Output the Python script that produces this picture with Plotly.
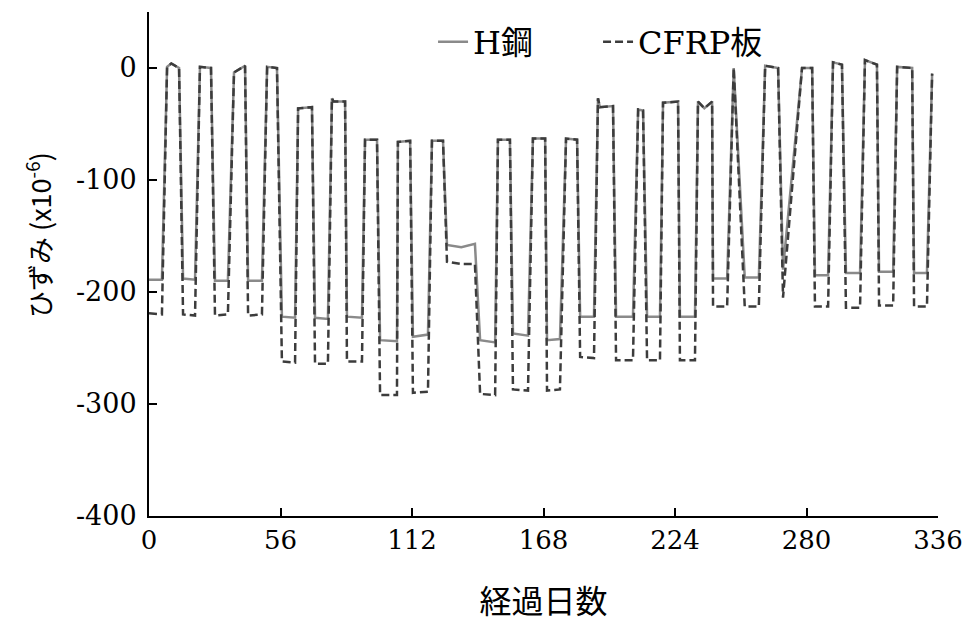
import plotly.graph_objects as go

# Elapsed days (shared by both gauges)
days = [
    0.0, 5.5, 7.7, 9.5, 12.8,
    14.5, 19.6, 21.7, 26.4,
    28.1, 33.6, 36.2, 40.9,
    42.2, 48.1, 50.3, 54.5,
    56.6, 62.2, 63.5, 69.4,
    70.7, 76.2, 77.9, 78.6, 83.5,
    84.3, 90.7, 92.0, 97.1,
    98.4, 105.6, 106.0, 111.2,
    112.4, 118.8, 120.5, 125.2,
    126.9, 133.0, 138.8,
    141.0, 147.4, 148.6, 153.7,
    155.0, 161.4, 163.5, 168.7,
    169.5, 175.0, 177.6, 182.3,
    183.6, 189.5, 191.2, 192.0, 197.6,
    198.9, 206.1, 208.3, 210.4,
    212.1, 217.6, 218.9, 225.3,
    226.1, 232.5, 233.8, 236.5, 239.8,
    240.2, 246.2, 249.0,
    253.7, 259.7, 262.4, 267.9,
    270.0, 278.1, 282.4,
    283.6, 289.2, 291.3, 295.1,
    296.8, 302.8, 304.9, 310.0,
    310.9, 316.9, 318.6, 325.0,
    325.8, 331.3, 333.5,
]

# Strain of the H-section steel (x10^-6)
h_steel = [
    -189, -189, 1, 4, 0,
    -188, -189, 1, 0,
    -190, -190, -4, 2,
    -190, -190, 1, 0,
    -222, -223, -36, -35,
    -223, -224, -27, -30, -30,
    -222, -223, -64, -64,
    -243, -244, -66, -65,
    -240, -238, -65, -65,
    -158, -160, -157,
    -243, -245, -64, -64,
    -237, -239, -63, -63,
    -243, -242, -63, -64,
    -222, -222, -27, -35, -34,
    -222, -222, -37, -38,
    -222, -222, -31, -30,
    -222, -222, -30, -36, -30,
    -188, -188, 0,
    -187, -187, 2, 0,
    -180, 0, 0,
    -185, -185, 5, 3,
    -183, -183, 7, 3,
    -182, -182, 1, 0,
    -183, -183, -5,
]

# Strain of the CFRP plate (x10^-6)
cfrp_plate = [
    -219, -220, 1, 4, 0,
    -220, -221, 1, 0,
    -221, -220, -4, 2,
    -221, -220, 1, 0,
    -262, -263, -36, -35,
    -264, -264, -27, -30, -30,
    -262, -262, -64, -64,
    -292, -292, -66, -65,
    -290, -289, -65, -65,
    -173, -175, -175,
    -291, -292, -64, -64,
    -287, -288, -63, -63,
    -288, -287, -63, -64,
    -258, -259, -27, -35, -34,
    -261, -261, -37, -38,
    -261, -261, -31, -30,
    -261, -261, -30, -36, -30,
    -213, -213, 0,
    -213, -213, 2, 0,
    -205, 0, 0,
    -213, -213, 5, 3,
    -214, -214, 7, 3,
    -212, -212, 1, 0,
    -213, -213, -5,
]

x_ticks = [0, 56, 112, 168, 224, 280, 336]
y_ticks = [0, -100, -200, -300, -400]

serif = "DejaVu Serif, Noto Sans CJK JP"
sans = "Noto Sans CJK JP"

fig = go.Figure()
fig.add_trace(go.Scatter(
    x=days, y=h_steel, name="H鋼", mode="lines",
    line=dict(color="#8a8a8a", width=2.5),
))
fig.add_trace(go.Scatter(
    x=days, y=cfrp_plate, name="CFRP板", mode="lines",
    line=dict(color="#3c3c3c", width=2.5, dash="8px,4px"),
))

fig.update_layout(
    width=975, height=626,
    margin=dict(l=149, r=37, t=12, b=110, autoexpand=False),
    paper_bgcolor="white", plot_bgcolor="white",
    showlegend=True,
    legend=dict(
        orientation="h", x=0.36, y=0.995, xanchor="left", yanchor="top",
        font=dict(family=serif, size=32, color="black"),
        bgcolor="rgba(0,0,0,0)", entrywidth=120, itemwidth=30,
    ),
    annotations=[dict(
        text="ひずみ (x10<sup>-6</sup>)", textangle=-90,
        xref="paper", yref="paper", x=-0.1407, y=0.5575,
        xanchor="center", yanchor="middle", showarrow=False,
        font=dict(family=sans, size=27, color="black"),
    )],
)
fig.update_xaxes(
    range=[0, 336], tickvals=x_ticks, ticktext=[str(v) for v in x_ticks],
    showgrid=False, zeroline=False, showline=True, linecolor="black", linewidth=2,
    ticks="inside", ticklen=8, tickwidth=1.5, tickcolor="black",
    tickfont=dict(family=serif, size=26, color="black"),
    title=dict(text="経過日数", font=dict(family=sans, size=32, color="black"), standoff=36),
)
fig.update_yaxes(
    range=[-400, 50], tickvals=y_ticks, ticktext=[str(v) for v in y_ticks],
    showgrid=False, zeroline=False, showline=True, linecolor="black", linewidth=2,
    ticks="inside", ticklen=8, tickwidth=1.5, tickcolor="black",
    tickfont=dict(family=serif, size=27, color="black"),
    ticklabelstandoff=5,
)

fig.write_html("out.html")
